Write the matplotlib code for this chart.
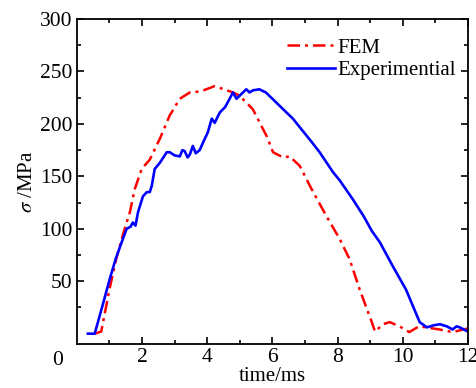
import matplotlib
matplotlib.use('Agg')
import matplotlib.pyplot as plt

plt.rcParams['font.family'] = ['Liberation Serif', 'DejaVu Serif']
plt.rcParams['mathtext.fontset'] = 'stix'

# FEM curve (red dash-dot)
fem_t = [0.55, 0.75, 1.0, 1.2, 1.42, 1.63, 1.78, 1.99, 2.24, 2.55, 2.85, 3.16, 3.47, 3.8, 4.23,
         4.79, 4.99, 5.4, 5.83, 6.02, 6.33, 6.53, 6.84, 7.2, 7.66, 8.07, 8.37, 8.68, 9.05,
         9.15, 9.39, 9.6, 9.9, 10.2, 10.5, 11.13, 11.53, 12.0]
fem_s = [0, 2, 42, 70, 95, 116, 138, 157, 166, 186, 208, 224, 230, 231, 236,
         230, 227, 214, 188, 173, 168, 169, 160, 138, 112, 90, 71, 42, 11,
         2, 9, 11, 7, 1.5, 7, 4, 1.5, 5]

# Experimental curve (blue)
exp_t = [0.34, 0.55, 0.8, 1.01, 1.2, 1.41, 1.53, 1.65, 1.72, 1.8, 1.88, 2.03, 2.15, 2.24,
         2.3, 2.39, 2.55, 2.76, 2.85, 3.0, 3.16, 3.24, 3.31, 3.4, 3.47, 3.56, 3.65, 3.77,
         3.87, 4.02, 4.14, 4.23, 4.39, 4.55, 4.69, 4.79, 4.9, 5.0, 5.2, 5.3, 5.4, 5.6,
         5.8, 6.0, 6.33, 6.63, 6.94, 7.2, 7.45, 7.86, 8.07, 8.47, 8.8, 9.05, 9.3, 9.7,
         10.1, 10.52, 10.74, 10.95, 11.14, 11.35, 11.53, 11.65, 11.75, 12.0]
exp_s = [0, 0, 28, 52, 72, 90, 100, 102, 106, 103, 116, 131, 135, 135,
         141, 157, 163, 173, 173, 170, 169, 175, 174, 168, 171, 179, 172, 175,
         182, 192, 205, 201, 211, 216, 224, 230, 224, 227, 233, 230, 232, 233,
         230, 224, 214, 205, 193, 183, 173, 154, 146, 128, 112, 98, 87, 64,
         42, 11, 6, 8, 9, 7, 4, 7, 6, 2]

fig = plt.figure(figsize=(4.77, 3.88), dpi=100)
ax = fig.add_axes([0.161, 0.113, 0.82, 0.838])

ax.plot(fem_t, fem_s, color='#ff0000', lw=1.8, ls=(0, (5, 2, 1.2, 2)), label='FEM')
ax.plot(exp_t, exp_s, color='#0000ff', lw=1.9, label='Experimential')

ax.set_xlim(0, 12)
ax.set_ylim(-10, 300)
ax.set_xticks([2, 4, 6, 8, 10, 12])
ax.set_xticks([1, 3, 5, 7, 9, 11], minor=True)
ax.set_yticks([50, 100, 150, 200, 250, 300])
ax.set_yticks([25, 75, 125, 175, 225, 275], minor=True)
ax.tick_params(which='both', direction='in', top=True, right=True, labelsize=15.5, width=1.2)
ax.tick_params(which='major', length=5, pad=3)
ax.tick_params(which='minor', length=3)
for sp in ax.spines.values():
    sp.set_linewidth(1.3)

ax.text(-0.035, -0.022, '0', transform=ax.transAxes, ha='right', va='top', fontsize=15.5)
ax.set_xlabel('time/ms', fontsize=15, labelpad=0)
ax.set_ylabel(r'$\sigma$ /MPa', fontsize=15, labelpad=2)

ax.legend(loc='upper right', bbox_to_anchor=(1.0, 0.98), frameon=False, fontsize=15,
          handlelength=2.3, handletextpad=0.1, borderaxespad=0.2, labelspacing=0.15)

fig.savefig('out.png', dpi=100)
